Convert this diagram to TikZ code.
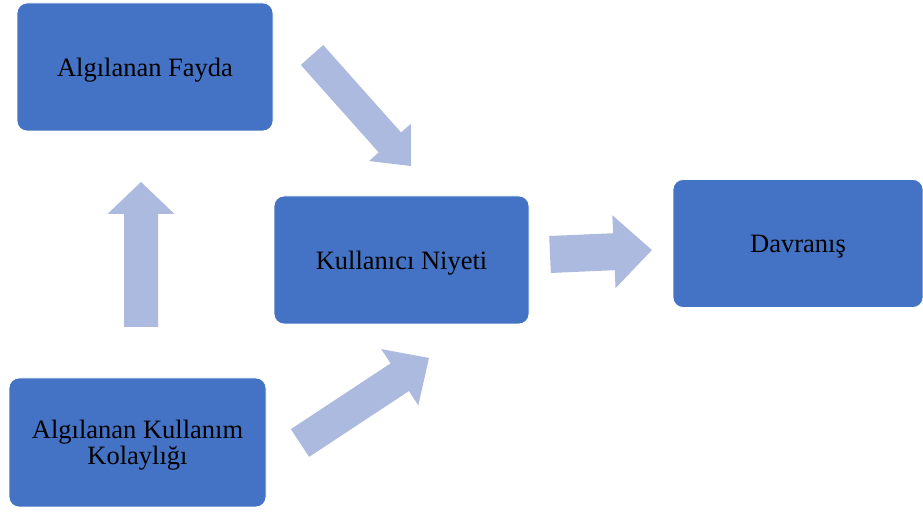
\documentclass[tikz,border=0pt]{standalone}
\usepackage{fontspec}
\setmainfont{Liberation Serif}
\definecolor{boxblue}{HTML}{4472C4}
\definecolor{arrowblue}{RGB}{173,186,224}
\newcommand{\blockarrow}[8]{%
  \begin{scope}[shift={(#1,#2)}, rotate=#3]
    \coordinate (#8-start) at (0,0);
    \coordinate (#8-tip) at (#4,0);
    \fill[arrowblue] (0,-#5) -- ({#4-#7},-#5) -- ({#4-#7},-#6) -- (#8-tip)
      -- ({#4-#7},#6) -- ({#4-#7},#5) -- (0,#5) -- cycle;
  \end{scope}}
\begin{document}
\begin{tikzpicture}[x=1pt,y=1pt,
  box/.style={rounded corners=10pt, fill=boxblue, draw=white, line width=0.8pt,
    text=black, font=\fontsize{26.5}{26}\selectfont, align=center,
    inner sep=0pt, text depth=0.02em}]
\useasboundingbox (0,0) rectangle (923,511);
\node[box, minimum width=256pt, minimum height=128pt] (fayda) at (145,444) {Algılanan Fayda};
\node[box, minimum width=255pt, minimum height=128pt] (niyet) at (401.5,251) {Kullanıcı Niyeti};
\node[box, minimum width=250pt, minimum height=128pt] (davranis) at (798,267.5) {Davranış};
\node[box, minimum width=257pt, minimum height=129pt] (kolay) at (137.5,68.5) {Algılanan Kullanım\\Kolaylığı};
% block arrows
\blockarrow{141}{184}{90}{145}{17}{33.5}{32}{a1}
\blockarrow{550}{256.5}{2.5}{102}{18.5}{36.5}{38}{a2}
\blockarrow{312}{456}{-48.3}{148.7}{15}{28}{31.6}{a3}
\blockarrow{300}{68}{33.4}{154.5}{16.6}{33.7}{35}{a4}
\end{tikzpicture}
\end{document}
